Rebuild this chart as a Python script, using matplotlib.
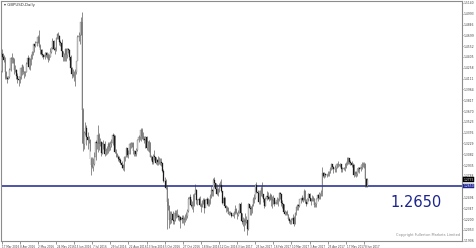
import numpy as np
import pandas as pd
import matplotlib
matplotlib.use("Agg")
import matplotlib.pyplot as plt
import matplotlib.transforms as mtransforms

# GBPUSD daily candles, 17 Mar 2016 - 13 Jun 2017 (one row per month)
first_open = 1.4210
high = [
    1.4515, 1.4465, 1.4435, 1.4400, 1.4215, 1.4140, 1.4150, 1.4255, 1.4405, 1.4455, 1.4405,
    1.4385, 1.4300, 1.4235, 1.4185, 1.4140, 1.4160, 1.4270, 1.4315, 1.4285, 1.4215, 1.4220,
    1.4330, 1.4435, 1.4405, 1.4395, 1.4445, 1.4480, 1.4585, 1.4585, 1.4625, 1.4640,
    1.4700, 1.4770, 1.4580, 1.4520, 1.4510, 1.4450, 1.4470, 1.4470, 1.4470, 1.4455, 1.4440,
    1.4525, 1.4535, 1.4660, 1.4635, 1.4540, 1.4675, 1.4730, 1.4745, 1.4700, 1.4640, 1.4655,
    1.4490, 1.4465, 1.4525, 1.4525, 1.4530, 1.4530, 1.4510, 1.4425, 1.4270, 1.4240, 1.4215,
    1.4245, 1.4355, 1.4700, 1.4740, 1.4745, 1.4950, 1.5018, 1.3710, 1.3400, 1.3520, 1.3475,
    1.3390, 1.3330, 1.3285, 1.3045, 1.3040, 1.3035, 1.3110, 1.3270, 1.3350, 1.3480, 1.3375,
    1.3300, 1.3265, 1.3245, 1.3270, 1.3260, 1.3165, 1.3195, 1.3255, 1.3255, 1.3265,
    1.3290, 1.3370, 1.3355, 1.3340, 1.3150, 1.3095, 1.3070, 1.3060, 1.3035, 1.2985, 1.2945,
    1.3060, 1.3060, 1.3185, 1.3170, 1.3135, 1.3235, 1.3245, 1.3255, 1.3250, 1.3140, 1.3125, 1.3170,
    1.3290, 1.3340, 1.3355, 1.3445, 1.3435, 1.3380, 1.3325, 1.3330, 1.3325, 1.3265, 1.3275,
    1.3255, 1.3075, 1.3060, 1.3090, 1.3135, 1.3045, 1.3020, 1.3055, 1.3050, 1.3035, 1.3025,
    1.2970, 1.2875, 1.2775, 1.2740, 1.2665, 1.2485, 1.2395, 1.2315, 1.2315, 1.2305, 1.2225,
    1.2330, 1.2330, 1.2340, 1.2265, 1.2250, 1.2245, 1.2250, 1.2260, 1.2235, 1.2275,
    1.2300, 1.2340, 1.2495, 1.2535, 1.2475, 1.2445, 1.2545, 1.2550, 1.2675, 1.2615, 1.2480,
    1.2495, 1.2515, 1.2420, 1.2460, 1.2490, 1.2485, 1.2480, 1.2505, 1.2490, 1.2475, 1.2535,
    1.2655, 1.2615, 1.2760, 1.2775, 1.2695, 1.2680, 1.2630, 1.2695, 1.2720, 1.2750, 1.2565,
    1.2515, 1.2495, 1.2395, 1.2380, 1.2365, 1.2310, 1.2305, 1.2295, 1.2290, 1.2315, 1.2390,
    1.2350, 1.2300, 1.2330, 1.2415, 1.2430, 1.2290, 1.2225, 1.2220, 1.2280, 1.2245, 1.2090,
    1.2415, 1.2390, 1.2375, 1.2410, 1.2505, 1.2545, 1.2675, 1.2705, 1.2595, 1.2580, 1.2595,
    1.2650, 1.2705, 1.2545, 1.2485, 1.2505, 1.2580, 1.2570, 1.2520, 1.2555, 1.2545,
    1.2510, 1.2530, 1.2490, 1.2445, 1.2505, 1.2485, 1.2570, 1.2570, 1.2520, 1.2455,
    1.2400, 1.2325, 1.2315, 1.2325, 1.2265, 1.2225, 1.2195, 1.2215, 1.2275, 1.2240, 1.2300, 1.2380,
    1.2410, 1.2405, 1.2475, 1.2485, 1.2525, 1.2505, 1.2615, 1.2590, 1.2475, 1.2485, 1.2550,
    1.2560, 1.2490, 1.2530, 1.2510, 1.2490, 1.2430, 1.2485, 1.2535, 1.2565, 1.2560,
    1.2595, 1.2905, 1.2845, 1.2845, 1.2830, 1.2820, 1.2855, 1.2850, 1.2905, 1.2965,
    1.2950, 1.2925, 1.2935, 1.2945, 1.2965, 1.2995, 1.2955, 1.2960, 1.2955, 1.2905, 1.2915, 1.2960,
    1.2975, 1.3045, 1.3045, 1.3020, 1.3005, 1.2990, 1.2965, 1.2945, 1.2855, 1.2850, 1.2895,
    1.2915, 1.2905, 1.2945, 1.2975, 1.2980, 1.2975, 1.2960, 1.2765, 1.2755,
]
low = [
    1.4205, 1.4395, 1.4340, 1.4100, 1.4110, 1.4055, 1.4100, 1.4120, 1.4215, 1.4325, 1.4320,
    1.4180, 1.4200, 1.4110, 1.4050, 1.4005, 1.4050, 1.4110, 1.4160, 1.4170, 1.4120, 1.4140,
    1.4195, 1.4300, 1.4245, 1.4230, 1.4300, 1.4375, 1.4425, 1.4475, 1.4545, 1.4560,
    1.4595, 1.4540, 1.4445, 1.4425, 1.4410, 1.4375, 1.4375, 1.4400, 1.4385, 1.4330, 1.4365,
    1.4400, 1.4460, 1.4520, 1.4500, 1.4445, 1.4490, 1.4650, 1.4655, 1.4570, 1.4560, 1.4475,
    1.4350, 1.4355, 1.4350, 1.4350, 1.4390, 1.4455, 1.4360, 1.4245, 1.4115, 1.4135, 1.4080,
    1.4010, 1.4180, 1.4520, 1.4620, 1.4580, 1.4700, 1.3230, 1.3120, 1.3160, 1.3350, 1.3210,
    1.3160, 1.3240, 1.3120, 1.2795, 1.2900, 1.2850, 1.2930, 1.3010, 1.3150, 1.3115, 1.3140,
    1.3190, 1.3065, 1.3090, 1.3155, 1.3055, 1.3070, 1.3085, 1.3105, 1.3120, 1.3145,
    1.3180, 1.3205, 1.3290, 1.3100, 1.3050, 1.3040, 1.2990, 1.2980, 1.2950, 1.2900, 1.2865,
    1.2860, 1.2995, 1.3040, 1.3045, 1.3030, 1.3085, 1.3165, 1.3180, 1.3080, 1.3055, 1.3055, 1.3065,
    1.3120, 1.3245, 1.3275, 1.3265, 1.3295, 1.3270, 1.3230, 1.3170, 1.3145, 1.3125, 1.3115,
    1.3045, 1.3000, 1.2955, 1.2950, 1.3000, 1.2945, 1.2930, 1.2940, 1.2950, 1.2930, 1.2920,
    1.2835, 1.2710, 1.2685, 1.2610, 1.2060, 1.2320, 1.2085, 1.2135, 1.2150, 1.2130, 1.2130,
    1.2175, 1.2215, 1.2230, 1.2195, 1.2180, 1.2080, 1.2150, 1.2150, 1.2125, 1.2165,
    1.2195, 1.2220, 1.2300, 1.2440, 1.2365, 1.2340, 1.2300, 1.2385, 1.2540, 1.2405, 1.2390,
    1.2440, 1.2375, 1.2300, 1.2370, 1.2400, 1.2285, 1.2360, 1.2395, 1.2375, 1.2385, 1.2410,
    1.2490, 1.2520, 1.2520, 1.2640, 1.2590, 1.2525, 1.2515, 1.2570, 1.2640, 1.2565, 1.2405,
    1.2415, 1.2360, 1.2300, 1.2305, 1.2265, 1.2250, 1.2270, 1.2225, 1.2240, 1.2220, 1.2265,
    1.2280, 1.2200, 1.2240, 1.2290, 1.2280, 1.2130, 1.2100, 1.2040, 1.2115, 1.2150, 1.1985,
    1.2050, 1.2255, 1.2255, 1.2290, 1.2375, 1.2420, 1.2475, 1.2555, 1.2485, 1.2410, 1.2400,
    1.2520, 1.2505, 1.2430, 1.2345, 1.2380, 1.2455, 1.2475, 1.2440, 1.2460, 1.2385,
    1.2345, 1.2405, 1.2385, 1.2400, 1.2400, 1.2385, 1.2450, 1.2470, 1.2375, 1.2345,
    1.2285, 1.2255, 1.2250, 1.2260, 1.2185, 1.2150, 1.2135, 1.2140, 1.2175, 1.2110, 1.2130, 1.2255,
    1.2325, 1.2325, 1.2370, 1.2425, 1.2440, 1.2430, 1.2465, 1.2425, 1.2375, 1.2420, 1.2440,
    1.2450, 1.2390, 1.2440, 1.2445, 1.2365, 1.2360, 1.2365, 1.2450, 1.2475, 1.2480,
    1.2510, 1.2515, 1.2775, 1.2760, 1.2770, 1.2770, 1.2785, 1.2785, 1.2830, 1.2870,
    1.2875, 1.2830, 1.2845, 1.2840, 1.2895, 1.2910, 1.2920, 1.2910, 1.2845, 1.2840, 1.2870, 1.2850,
    1.2890, 1.2935, 1.2950, 1.2955, 1.2930, 1.2915, 1.2905, 1.2775, 1.2790, 1.2775, 1.2780,
    1.2835, 1.2830, 1.2860, 1.2880, 1.2915, 1.2900, 1.2640, 1.2635, 1.2640,
]
close = [
    1.4445, 1.4400, 1.4370, 1.4205, 1.4115, 1.4110, 1.4135, 1.4225, 1.4390, 1.4385, 1.4370,
    1.4230, 1.4230, 1.4140, 1.4110, 1.4085, 1.4135, 1.4250, 1.4290, 1.4200, 1.4195, 1.4200,
    1.4315, 1.4390, 1.4265, 1.4370, 1.4415, 1.4470, 1.4575, 1.4560, 1.4595, 1.4615,
    1.4670, 1.4555, 1.4495, 1.4445, 1.4425, 1.4400, 1.4430, 1.4455, 1.4425, 1.4365, 1.4410,
    1.4470, 1.4525, 1.4620, 1.4510, 1.4500, 1.4665, 1.4720, 1.4685, 1.4610, 1.4600, 1.4480,
    1.4410, 1.4440, 1.4520, 1.4425, 1.4510, 1.4500, 1.4400, 1.4255, 1.4180, 1.4150, 1.4200,
    1.4200, 1.4345, 1.4680, 1.4690, 1.4700, 1.4880, 1.3680, 1.3220, 1.3365, 1.3435, 1.3310,
    1.3275, 1.3280, 1.3020, 1.2935, 1.2905, 1.2950, 1.3040, 1.3255, 1.3235, 1.3340, 1.3225,
    1.3245, 1.3100, 1.3215, 1.3225, 1.3090, 1.3130, 1.3150, 1.3225, 1.3175, 1.3225,
    1.3230, 1.3345, 1.3335, 1.3115, 1.3080, 1.3050, 1.3015, 1.3010, 1.2970, 1.2935, 1.2890,
    1.3040, 1.3040, 1.3165, 1.3075, 1.3090, 1.3225, 1.3230, 1.3235, 1.3120, 1.3125, 1.3080, 1.3135,
    1.3275, 1.3310, 1.3315, 1.3415, 1.3325, 1.3295, 1.3270, 1.3320, 1.3170, 1.3245, 1.3255,
    1.3050, 1.3050, 1.2975, 1.3055, 1.3045, 1.2965, 1.3000, 1.2980, 1.2980, 1.2975, 1.2970,
    1.2850, 1.2720, 1.2720, 1.2630, 1.2430, 1.2385, 1.2185, 1.2200, 1.2270, 1.2190, 1.2180,
    1.2290, 1.2245, 1.2245, 1.2230, 1.2235, 1.2185, 1.2220, 1.2200, 1.2190, 1.2245,
    1.2245, 1.2310, 1.2470, 1.2495, 1.2390, 1.2385, 1.2390, 1.2535, 1.2590, 1.2455, 1.2460,
    1.2480, 1.2395, 1.2370, 1.2450, 1.2460, 1.2350, 1.2460, 1.2475, 1.2405, 1.2420, 1.2510,
    1.2590, 1.2585, 1.2735, 1.2695, 1.2610, 1.2545, 1.2575, 1.2670, 1.2665, 1.2580, 1.2415,
    1.2485, 1.2385, 1.2345, 1.2355, 1.2275, 1.2280, 1.2285, 1.2245, 1.2255, 1.2285, 1.2340,
    1.2290, 1.2255, 1.2290, 1.2405, 1.2285, 1.2170, 1.2165, 1.2195, 1.2165, 1.2185, 1.2065,
    1.2400, 1.2345, 1.2335, 1.2375, 1.2480, 1.2485, 1.2660, 1.2575, 1.2555, 1.2435, 1.2580,
    1.2630, 1.2540, 1.2475, 1.2385, 1.2475, 1.2515, 1.2495, 1.2480, 1.2525, 1.2465,
    1.2455, 1.2485, 1.2410, 1.2430, 1.2460, 1.2455, 1.2555, 1.2535, 1.2420, 1.2405,
    1.2295, 1.2270, 1.2295, 1.2270, 1.2200, 1.2175, 1.2170, 1.2185, 1.2220, 1.2135, 1.2290, 1.2365,
    1.2395, 1.2385, 1.2470, 1.2475, 1.2485, 1.2465, 1.2580, 1.2430, 1.2405, 1.2470, 1.2545,
    1.2485, 1.2450, 1.2475, 1.2485, 1.2395, 1.2410, 1.2470, 1.2525, 1.2490, 1.2545,
    1.2575, 1.2830, 1.2780, 1.2815, 1.2805, 1.2795, 1.2820, 1.2815, 1.2880, 1.2945,
    1.2910, 1.2875, 1.2880, 1.2900, 1.2955, 1.2945, 1.2935, 1.2945, 1.2875, 1.2885, 1.2900, 1.2900,
    1.2955, 1.2990, 1.3035, 1.2975, 1.2965, 1.2940, 1.2935, 1.2800, 1.2835, 1.2820, 1.2885,
    1.2890, 1.2885, 1.2910, 1.2935, 1.2955, 1.2950, 1.2740, 1.2650, 1.2735,
]
level = 1.2650
price_ticks = [1.5140, 1.4993, 1.4846, 1.4699, 1.4552, 1.4405, 1.4258, 1.4111,
               1.3964, 1.3817, 1.3670, 1.3523, 1.3376, 1.3229, 1.3082, 1.2935,
               1.2788, 1.2641, 1.2494, 1.2347, 1.2200, 1.2053, 1.1906]

dates = pd.bdate_range("2016-03-17", periods=len(close))
n = len(close)
idx = np.arange(n)
c = np.array(close)
o = np.concatenate([[first_open], c[:-1]])
h = np.array(high)
l = np.array(low)
up = c >= o

fig = plt.figure(figsize=(4.76, 2.48), dpi=100)
ax = fig.add_axes([0.002, 0.028, 0.9685, 0.968])

ax.axhline(level, color="#1c2490", lw=1.1, zorder=1)
ax.vlines(idx, l, h, color="#3a3a3a", lw=0.4, zorder=2)
ax.bar(idx[up], (c - o)[up], bottom=o[up], width=0.6, color="#d4d4d4",
       edgecolor="#666666", linewidth=0.2, zorder=3)
ax.bar(idx[~up], (o - c)[~up], bottom=c[~up], width=0.6, color="#1a1a1a",
       edgecolor="#1a1a1a", linewidth=0.2, zorder=3)

ax.set_xlim(-0.5, 406.5)
ax.set_ylim(1.1902, 1.5166)

for s in ax.spines.values():
    s.set_color("#8c8c8c")
    s.set_linewidth(0.8)

ax.yaxis.tick_right()
ax.set_yticks(price_ticks)
ax.set_yticklabels([f"{v:.4f}" for v in price_ticks])
ax.tick_params(axis="y", labelsize=2.2, length=1.0, width=0.4, pad=0.4,
               colors="#444444")

xt = idx[::16]
ax.set_xticks(xt)
ax.set_xticklabels([f"{d.day} {d:%b %Y}" for d in dates[::16]], ha="left")
ax.tick_params(axis="x", labelsize=2.0, length=2, width=0.4, pad=0.6,
               colors="#444444")
offset = mtransforms.ScaledTranslation(0.5 / 72, 0, fig.dpi_scale_trans)
for lbl in ax.get_xticklabels():
    lbl.set_transform(lbl.get_transform() + offset)

# price boxes on the right scale
trans = mtransforms.blended_transform_factory(ax.transAxes, ax.transData)
ax.text(1.003, c[-1], f"{c[-1]:.4f}", transform=trans, fontsize=2.2,
        color="white", va="center", ha="left",
        bbox=dict(boxstyle="square,pad=0.12", fc="black", ec="black", lw=0.3))
ax.text(1.003, level, f"{level:.4f}", transform=trans, fontsize=2.2,
        color="white", va="center", ha="left",
        bbox=dict(boxstyle="square,pad=0.12", fc="#1c2490", ec="#1c2490", lw=0.3))

ax.text(0.845, 0.16, f"{level:.4f}", transform=ax.transAxes, fontsize=10.5,
        color="#1c2490", va="center", ha="left")
ax.text(0.006, 0.982, "\u25be GBPUSD,Daily", transform=ax.transAxes, fontsize=2.8,
        color="#333333", va="center", ha="left")
ax.text(0.997, 0.018, "Copyright Fullerton Markets Limited", transform=ax.transAxes,
        fontsize=2.5, color="#888888", va="bottom", ha="right")

fig.savefig("out.png", dpi=100, facecolor="white")
